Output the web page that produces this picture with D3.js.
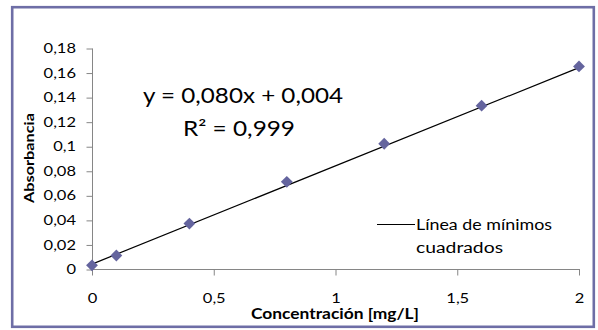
<!DOCTYPE html>
<html>
<head>
<meta charset="utf-8">
<script src="https://cdn.jsdelivr.net/npm/d3@7"></script>
<style>
  html, body { margin: 0; padding: 0; background: #fff; }
  svg { display: block; font-family: Lato, "Open Sans", sans-serif; }
</style>
</head>
<body>
<svg id="chart" width="598" height="330"></svg>
<script>
// Calibration data: concentration [mg/L] vs absorbance
const concentration = [0, 0.1, 0.4, 0.8, 1.2, 1.6, 2.0];
const absorbance = [0.003, 0.011, 0.037, 0.071, 0.102, 0.133, 0.165];

// Least-squares fit shown on the chart
const slope = 0.080;
const intercept = 0.004;
const equationLabel = "y = 0,080x + 0,004";
const r2Label = "R² = 0,999";

const xTicks = [0, 0.5, 1, 1.5, 2];
const yTicks = [0, 0.02, 0.04, 0.06, 0.08, 0.1, 0.12, 0.14, 0.16, 0.18];

const xTitle = "Concentración [mg/L]";
const yTitle = "Absorbancia";
const legendLines = ["Línea de mínimos", "cuadrados"];

const svg = d3.select("#chart");
const fmt = v => String(+v.toFixed(2)).replace(".", ",");

// Stretch a text horizontally around its own anchor point
function stretch(sel, sx) {
  sel.each(function () {
    const t = d3.select(this);
    const x = +t.attr("x") || 0, y = +t.attr("y") || 0;
    t.attr("transform", `translate(${x},${y}) scale(${sx},1) translate(${-x},${-y})`);
  });
}

// Chart frame
svg.append("rect")
  .attr("x", 12.2).attr("y", 7.2)
  .attr("width", 581.6).attr("height", 319.6)
  .attr("fill", "#fff")
  .attr("stroke", "#6e6ea6")
  .attr("stroke-width", 2.6);

const x = d3.scaleLinear().domain([0, 2]).range([92, 579]);
const y = d3.scaleLinear().domain([0, 0.18]).range([269, 48]);

const axisColor = "#868686";

// Y axis
const gy = svg.append("g")
  .attr("transform", "translate(92.5,0)")
  .call(d3.axisLeft(y).tickValues(yTicks).tickFormat(fmt).tickSize(6).tickPadding(0));
gy.select(".domain").attr("stroke", axisColor).attr("d", `M0,${y(0.18) + 0.5}V${y(0) + 0.5}`);
gy.selectAll(".tick line").attr("stroke", axisColor).attr("transform", "translate(0,0.5)");
gy.selectAll(".tick text")
  .attr("x", -16.5).attr("dy", "0.37em")
  .attr("font-size", 12.5).attr("fill", "#000")
  .attr("font-family", "Lato");
stretch(gy.selectAll(".tick text"), 1.32);

// X axis
const gx = svg.append("g")
  .attr("transform", "translate(0,269.5)")
  .call(d3.axisBottom(x).tickValues(xTicks).tickFormat(fmt).tickSize(6).tickPadding(0));
gx.select(".domain").attr("stroke", axisColor).attr("d", `M${x(0)},0H${x(2) + 1}`);
gx.selectAll(".tick line").attr("stroke", axisColor);
gx.selectAll(".tick text")
  .attr("y", 33.5).attr("dy", 0)
  .attr("font-size", 12.5).attr("fill", "#000")
  .attr("font-family", "Lato");
stretch(gx.selectAll(".tick text"), 1.32);

// Trend line
svg.append("line")
  .attr("x1", x(0)).attr("y1", y(intercept))
  .attr("x2", x(2)).attr("y2", y(slope * 2 + intercept))
  .attr("stroke", "#000").attr("stroke-width", 1.2);

// Data points (diamonds)
const diamond = d3.symbol(d3.symbolSquare, 70);
svg.append("g").selectAll("path")
  .data(concentration.map((c, i) => [c, absorbance[i]]))
  .join("path")
  .attr("d", diamond)
  .attr("transform", d => `translate(${x(d[0])},${y(d[1])}) rotate(45)`)
  .attr("fill", "#64649e");

// Equation and R²
svg.append("text")
  .attr("x", 243).attr("y", 102.5)
  .attr("text-anchor", "middle")
  .attr("font-size", 20.5)
  .attr("textLength", 200).attr("lengthAdjust", "spacingAndGlyphs")
  .text(equationLabel);
svg.append("text")
  .attr("x", 239).attr("y", 135.5)
  .attr("text-anchor", "middle")
  .attr("font-size", 20.5)
  .attr("textLength", 112).attr("lengthAdjust", "spacingAndGlyphs")
  .text(r2Label);

// Legend
svg.append("line")
  .attr("x1", 377).attr("x2", 415)
  .attr("y1", 224.5).attr("y2", 224.5)
  .attr("stroke", "#000").attr("stroke-width", 1.2);
svg.append("text")
  .attr("x", 416).attr("y", 229.5)
  .attr("font-size", 14.5)
  .attr("textLength", 136).attr("lengthAdjust", "spacingAndGlyphs")
  .text(legendLines[0]);
svg.append("text")
  .attr("x", 416).attr("y", 252.5)
  .attr("font-size", 14.5)
  .attr("textLength", 87).attr("lengthAdjust", "spacingAndGlyphs")
  .text(legendLines[1]);

// Axis titles
svg.append("text")
  .attr("x", 335).attr("y", 319)
  .attr("text-anchor", "middle")
  .attr("font-size", 14.5).attr("font-weight", "bold")
  .attr("textLength", 168).attr("lengthAdjust", "spacingAndGlyphs")
  .text(xTitle);
svg.append("text")
  .attr("transform", "translate(33.5,158) rotate(-90)")
  .attr("text-anchor", "middle")
  .attr("font-size", 14).attr("font-weight", "bold")
  .attr("textLength", 90).attr("lengthAdjust", "spacingAndGlyphs")
  .text(yTitle);
</script>
</body>
</html>
